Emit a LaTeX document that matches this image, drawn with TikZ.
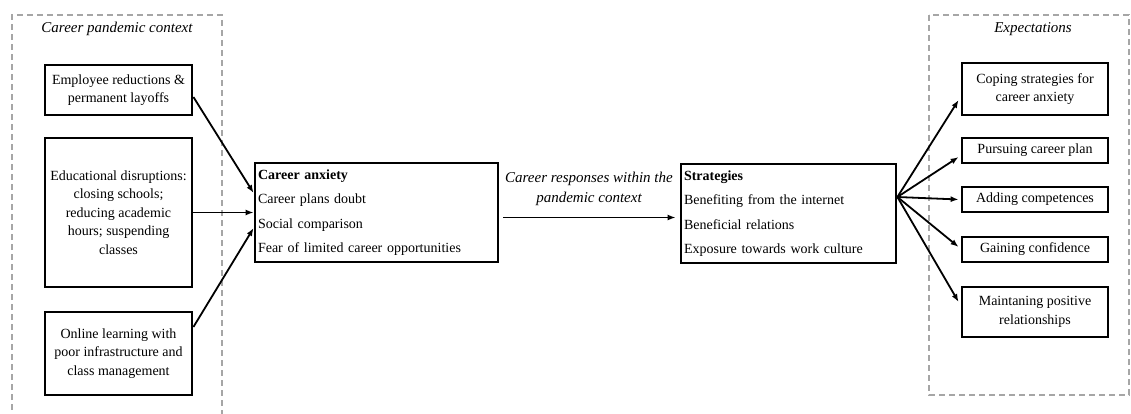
\documentclass[tikz,border=0pt]{standalone}
\usepackage{fontspec}
\setmainfont{Liberation Serif}
\usetikzlibrary{arrows.meta}
\definecolor{dashgray}{RGB}{166,166,166}
\tikzset{
  ctxframe/.style={draw=dashgray, line width=1.5pt, dash pattern=on 6pt off 4pt},
  ctxlabel/.style={font=\fontsize{15}{19.5}\selectfont\itshape, inner sep=0pt, align=center},
  sidebox/.style={draw, line width=2.8pt, minimum width=147pt, inner sep=2pt, align=center,
    font=\fontsize{14}{18.5}\selectfont},
  listbox/.style={draw, line width=2.8pt, inner xsep=3pt, inner ysep=2pt, align=left,
    font=\fontsize{14}{24.5}\selectfont},
  conn/.style={line width=1.8pt, -{Latex[length=8pt,width=6pt]}},
}
\begin{document}
\begin{tikzpicture}[x=1pt,y=-1pt]
\useasboundingbox (0,0) rectangle (1131,414);
% context frames
\draw[ctxframe] (12,430) -- (12,15) -- (222,15) -- (222,430);
\draw[ctxframe] (929,15) rectangle (1129,395);
\node[ctxlabel] (lctx) at (117,29) {Career pandemic context};
\node[ctxlabel] (rctx) at (1033,29) {Expectations};
% left boxes
\node[sidebox, minimum height=50pt] (b1) at (118.5,90) {Employee reductions \&\\permanent layoffs};
\node[sidebox, minimum height=149pt] (b2) at (118.5,212.5) {Educational disruptions:\\closing schools;\\reducing academic\\hours; suspending\\classes};
\node[sidebox, minimum height=83pt] (b3) at (118.5,353.5) {Online learning with\\poor infrastructure and\\class management};
% central boxes
\node[listbox, text width=237pt, minimum height=99pt] (anx) at (376.5,212.5)
  {\textbf{Career anxiety}\\Career plans doubt\\Social comparison\\Fear of limited career opportunities};
\node[listbox, text width=209pt, minimum height=99pt] (strat) at (788.5,213.5)
  {\textbf{Strategies}\\Benefiting from the internet\\Beneficial relations\\Exposure towards work culture};
\node[ctxlabel] (mid) at (589,189) {Career responses within the\\pandemic context};
% right boxes
\node[sidebox, minimum width=146pt, minimum height=52pt] (e1) at (1035,89) {Coping strategies for\\career anxiety};
\node[sidebox, minimum width=146pt, minimum height=25pt] (e2) at (1035,150.5) {Pursuing career plan};
\node[sidebox, minimum width=146pt, minimum height=25pt] (e3) at (1035,199.5) {Adding competences};
\node[sidebox, minimum width=146pt, minimum height=25pt] (e4) at (1035,249.5) {Gaining confidence};
\node[sidebox, minimum width=146pt, minimum height=50pt] (e5) at (1035,312) {Maintaning positive\\relationships};
% connectors
\draw[conn] ([yshift=-7pt]b1.east) -- ([yshift=19.5pt]anx.west);
\draw[conn] (b2.east) -- (anx.west);
\draw[conn] ([yshift=26.5pt]b3.east) -- ([yshift=-15.5pt]anx.west);
\draw[conn] ([xshift=4pt,yshift=-5pt]anx.east) -- ([xshift=-4pt,yshift=-4pt]strat.west);
\coordinate (fan) at ([yshift=16.5pt]strat.east);
\draw[conn] (fan) -- ([xshift=-2pt,yshift=-11pt]e1.west);
\draw[conn] (fan) -- ([xshift=-2pt,yshift=-6.5pt]e2.west);
\draw[conn] (fan) -- ([xshift=-2pt]e3.west);
\draw[conn] (fan) -- ([xshift=-2pt,yshift=2.5pt]e4.west);
\draw[conn] (fan) -- ([xshift=-2pt,yshift=10pt]e5.west);
\end{tikzpicture}
\end{document}
